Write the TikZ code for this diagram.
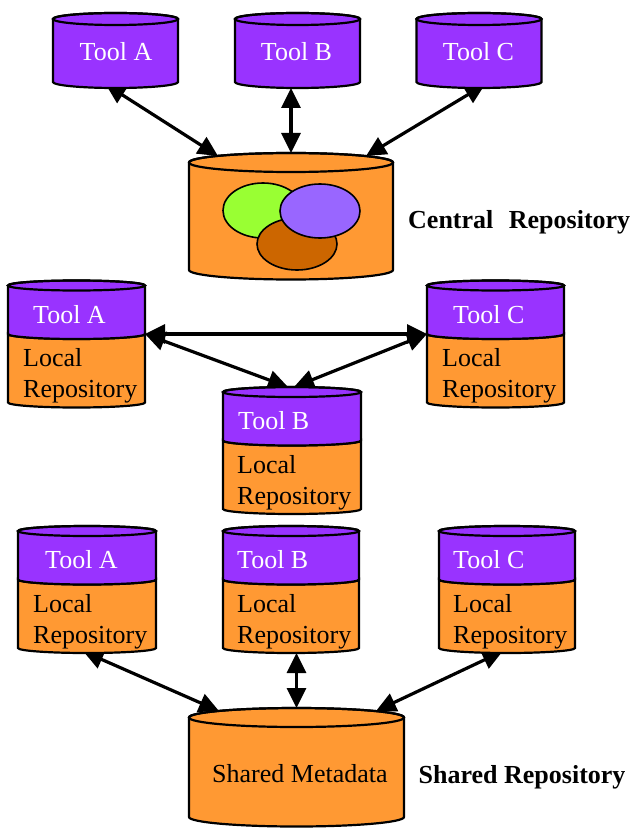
\documentclass[tikz,border=0pt]{standalone}
\usepackage{fontspec}
\setmainfont{Liberation Serif}
\usetikzlibrary{arrows.meta,calc,backgrounds}
\definecolor{toolpurple}{HTML}{9933FF}
\definecolor{repoorange}{HTML}{FF9933}
\definecolor{setgreen}{HTML}{99FF33}
\definecolor{setviolet}{HTML}{9966FF}
\definecolor{setbrown}{HTML}{CC6600}
\tikzset{
  cylline/.style={draw=black, line width=2.2pt},
  cylarea/.style={rectangle, draw=none, inner sep=0pt, outer sep=0pt},
  wtext/.style={text=white, inner sep=0pt, font=\fontsize{26}{30}\selectfont},
  btext/.style={text=black, inner sep=0pt, font=\fontsize{26}{30}\selectfont},
  bold/.style={text=black, inner sep=0pt, font=\fontsize{26}{30}\selectfont\bfseries},
  setell/.style={draw=black, line width=1.6pt},
  conn/.style={line width=3.2pt, {Triangle[length=20pt,width=19pt]}-{Triangle[length=20pt,width=19pt]}},
}
% single-colour cylinder: name, cx, y top-ellipse centre, y bottom-ellipse centre, rx, ry, fill
\newcommand{\onecyl}[7]{%
  \pgfmathsetmacro{\cyXl}{#2-#5}\pgfmathsetmacro{\cyXr}{#2+#5}%
  \filldraw[cylline,fill=#7] (\cyXl,-#3) -- (\cyXl,-#4) arc (180:360:#5pt and #6pt) -- (\cyXr,-#3) arc (0:180:#5pt and #6pt) -- cycle;
  \draw[cylline] (#2,-#3) ellipse (#5pt and #6pt);
  \pgfmathsetmacro{\cyXc}{(#3+#4)/2}\pgfmathsetmacro{\cyXh}{#4-#3+2*#6}\pgfmathsetmacro{\cyXw}{2*#5}%
  \node[cylarea, minimum width=\cyXw pt, minimum height=\cyXh pt] (#1) at (#2,-\cyXc) {};
}
% two-tone cylinder: name, cx, y top-ellipse centre, rx
\newcommand{\twocyl}[4]{%
  \pgfmathsetmacro{\cyXl}{#2-#4}\pgfmathsetmacro{\cyXr}{#2+#4}%
  \pgfmathsetmacro{\cyXd}{#3+48.5}\pgfmathsetmacro{\cyXb}{#3+117}%
  \filldraw[cylline,fill=repoorange] (\cyXl,-\cyXd) -- (\cyXl,-\cyXb) arc (180:360:#4pt and 5pt) -- (\cyXr,-\cyXd) arc (0:-180:#4pt and 5pt) -- cycle;
  \filldraw[cylline,fill=toolpurple] (\cyXl,-#3) -- (\cyXl,-\cyXd) arc (180:360:#4pt and 5pt) -- (\cyXr,-#3) arc (0:180:#4pt and 5pt) -- cycle;
  \draw[cylline] (#2,-#3) ellipse (#4pt and 5pt);
  \pgfmathsetmacro{\cyXc}{#3+58.5}\pgfmathsetmacro{\cyXw}{2*#4}%
  \node[cylarea, minimum width=\cyXw pt, minimum height=127pt] (#1) at (#2,-\cyXc) {};
  \coordinate (#1-dl) at (\cyXl,-\cyXd);
  \coordinate (#1-dr) at (\cyXr,-\cyXd);
}
\begin{document}
\begin{tikzpicture}[x=1pt,y=1pt]
\useasboundingbox (0,0) rectangle (631,-829);

% ---------- top: central repository ----------
\onecyl{tA}{115.5}{19}{82}{62.5}{6}{toolpurple}
\onecyl{tB}{297.5}{19}{82}{62.5}{6}{toolpurple}
\onecyl{tC}{479}{19}{82}{62.5}{6}{toolpurple}
\node[wtext, anchor=base] (tA-t) at (116,-61) {Tool A};
\node[wtext, anchor=base] (tB-t) at (296.5,-61) {Tool B};
\node[wtext, anchor=base] (tC-t) at (478.5,-61) {Tool C};

\onecyl{cen}{291}{162.5}{270}{102}{9.5}{repoorange}
\draw[setell, fill=setgreen] (263,-210.5) ellipse (40pt and 27.5pt);
\draw[setell, fill=setbrown] (297,-244) ellipse (40pt and 26pt);
\draw[setell, fill=setviolet] (320,-211) ellipse (40pt and 27pt);
\node[bold, anchor=base west] (cenlbl) at (408,-228) {Central\hspace{9pt} Repository};

% ---------- middle: point to point ----------
\twocyl{mA}{76.5}{285.5}{68.5}
\twocyl{mC}{495.5}{285.5}{68.5}
\twocyl{mB}{292}{392}{69}
\node[wtext, anchor=base west] (mA-t) at (33,-323) {Tool A};
\node[btext, anchor=base west] (mA-l1) at (23,-366.5) {Local};
\node[btext, anchor=base west] (mA-l2) at (23,-397.5) {Repository};
\node[wtext, anchor=base west] (mC-t) at (453,-323) {Tool C};
\node[btext, anchor=base west] (mC-l1) at (442,-366.5) {Local};
\node[btext, anchor=base west] (mC-l2) at (442,-397.5) {Repository};
\node[wtext, anchor=base west] (mB-t) at (238,-429.5) {Tool B};
\node[btext, anchor=base west] (mB-l1) at (237,-473) {Local};
\node[btext, anchor=base west] (mB-l2) at (237,-504) {Repository};

% ---------- bottom: shared repository ----------
\twocyl{bA}{87}{531}{69}
\twocyl{bB}{291}{531}{68}
\twocyl{bC}{507}{531}{68}
\node[wtext, anchor=base west] (bA-t) at (45,-568.5) {Tool A};
\node[btext, anchor=base west] (bA-l1) at (33,-612) {Local};
\node[btext, anchor=base west] (bA-l2) at (33,-643) {Repository};
\node[wtext, anchor=base west] (bB-t) at (237,-568.5) {Tool B};
\node[btext, anchor=base west] (bB-l1) at (237,-612) {Local};
\node[btext, anchor=base west] (bB-l2) at (237,-643) {Repository};
\node[wtext, anchor=base west] (bC-t) at (453,-568.5) {Tool C};
\node[btext, anchor=base west] (bC-l1) at (453,-612) {Local};
\node[btext, anchor=base west] (bC-l2) at (453,-643) {Repository};

\onecyl{sh}{296.5}{717.5}{817}{107.5}{9.5}{repoorange}
\node[btext, anchor=base west] (sh-t) at (212,-782) {Shared Metadata};
\node[bold, anchor=base west] (shlbl) at (418.5,-783) {Shared Repository};

% ---------- connectors ----------
\begin{pgfonlayer}{background}
\draw[conn, shorten <=-7pt] ([xshift=-4pt]tA.south) -- ($(cen.north)+(-73,-3)$);
\draw[conn] (cen.north |- tB.south) -- (cen.north);
\draw[conn, shorten <=-7pt] (tC.south) -- ($(cen.north)+(75,-3)$);
\draw[conn] (mA-dr) -- (mC-dl);
\draw[conn] (mA-dr) -- ([xshift=-4pt]mB.north);
\draw[conn] (mC-dl) -- ([xshift=2pt]mB.north);
\draw[conn, shorten <=-4pt] (bA.south) -- ($(sh.north)+(-77.5,-3)$);
\draw[conn] (sh.north |- bB.south) -- (sh.north);
\draw[conn, shorten <=-4pt] ([xshift=-8pt]bC.south) -- ($(sh.north)+(79.5,-3)$);
\end{pgfonlayer}
\end{tikzpicture}
\end{document}
